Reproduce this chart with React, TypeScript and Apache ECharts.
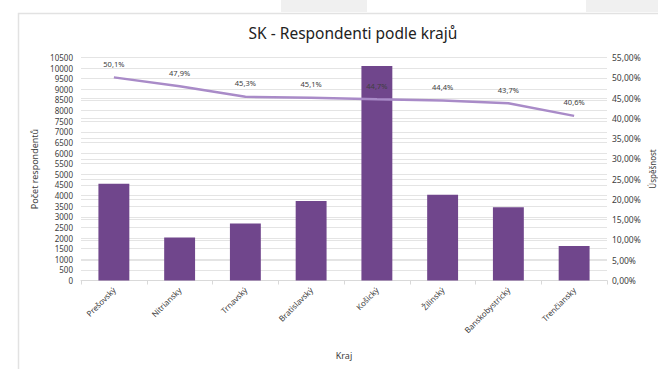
import React, { useEffect, useRef } from "react";
import * as echarts from "echarts";

const regions = [
  "Prešovský",
  "Nitriansky",
  "Trnavský",
  "Bratislavský",
  "Košický",
  "Žilinský",
  "Banskobystrický",
  "Trenčiansky",
];
const respondents = [4550, 2030, 2680, 3740, 10100, 4040, 3450, 1620];
const successRate = [50.1, 47.9, 45.3, 45.1, 44.7, 44.4, 43.7, 40.6];

const FONT = "'Noto Sans', sans-serif";
const TEXT = "#404040";
const GRID = "#e4e4e4";

export default function App() {
  const ref = useRef<HTMLDivElement>(null);

  useEffect(() => {
    if (!ref.current) return;
    const chart = echarts.init(ref.current, null, { renderer: "svg" });
    chart.setOption({
      animation: false,
      backgroundColor: "#ffffff",
      textStyle: { fontFamily: FONT },
      title: {
        text: "SK - Respondenti podle krajů",
        left: 348,
        top: 20,
        textAlign: "center",
        textStyle: { fontFamily: FONT, fontSize: 15.5, fontWeight: "normal", color: "#222" },
      },
      graphic: [
        { type: "rect", shape: { x: 281, y: 0, width: 86, height: 12 }, style: { fill: "#f0f0f0" }, silent: true },
        { type: "rect", shape: { x: 586, y: 0, width: 80, height: 12 }, style: { fill: "#f0f0f0" }, silent: true },
        {
          type: "polyline",
          shape: { points: [[18.5, 380], [18.5, 13.5], [670, 13.5]] },
          style: { stroke: "#e2e2e2", lineWidth: 1.5, fill: "none" },
          silent: true,
        },
        // secondary axis title, placed by hand at the right edge
        {
          type: "text",
          x: 652,
          y: 169,
          rotation: Math.PI / 2,
          style: {
            text: "Úspěšnost",
            fontFamily: FONT,
            fontSize: 8,
            fill: TEXT,
            align: "center",
            verticalAlign: "middle",
          },
          silent: true,
        },
      ],
      grid: { left: 81, right: 51, top: 57.5, bottom: 88.5, outerBoundsMode: "none", containLabel: false },
      xAxis: {
        type: "category",
        data: regions,
        name: "Kraj",
        nameLocation: "middle",
        nameGap: 70,
        nameTextStyle: { fontFamily: FONT, fontSize: 9, color: TEXT },
        axisLine: { lineStyle: { color: "#d9d9d9" } },
        axisTick: { show: true, alignWithLabel: false, length: 4, lineStyle: { color: "#d9d9d9" } },
        axisLabel: { rotate: 45, fontSize: 8, color: TEXT, fontFamily: FONT, margin: 8, interval: 0 },
      },
      yAxis: [
        {
          type: "value",
          min: 0,
          max: 10500,
          interval: 500,
          name: "Počet respondentů",
          nameLocation: "middle",
          nameGap: 38,
          nameRotate: 90,
          nameTextStyle: { fontFamily: FONT, fontSize: 9, color: TEXT },
          axisLabel: {
            fontSize: 8,
            color: TEXT,
            fontFamily: FONT,
            margin: 8,
            formatter: (v: number) => String(v),
          },
          axisLine: { show: false },
          axisTick: { show: false },
          splitLine: { lineStyle: { color: GRID, width: 1 } },
        },
        {
          type: "value",
          min: 0,
          max: 55,
          interval: 5,
          axisLabel: {
            fontSize: 8.5,
            color: TEXT,
            fontFamily: FONT,
            margin: 5,
            formatter: (v: number) => v.toFixed(2).replace(".", ",") + "%",
          },
          axisLine: { show: false },
          axisTick: { show: false },
          splitLine: { lineStyle: { color: GRID, width: 1 } },
        },
      ],
      series: [
        {
          type: "bar",
          data: respondents,
          yAxisIndex: 0,
          barWidth: "47%",
          itemStyle: { color: "#70468c" },
        },
        {
          type: "line",
          data: successRate,
          yAxisIndex: 1,
          symbol: "circle",
          symbolSize: 1,
          showSymbol: true,
          itemStyle: { color: "rgba(0,0,0,0)", borderWidth: 0 },
          lineStyle: { color: "#a98bc8", width: 2.5 },
          label: {
            show: true,
            position: "top",
            distance: 9,
            fontSize: 7.5,
            color: TEXT,
            fontFamily: FONT,
            formatter: (p: any) => Number(p.value).toFixed(1).replace(".", ",") + "%",
          },
          z: 5,
        },
      ],
    });
    return () => chart.dispose();
  }, []);

  return (
    <div
      ref={ref}
      style={{ position: "absolute", left: 0, top: 0, width: 658, height: 369 }}
    />
  );
}
